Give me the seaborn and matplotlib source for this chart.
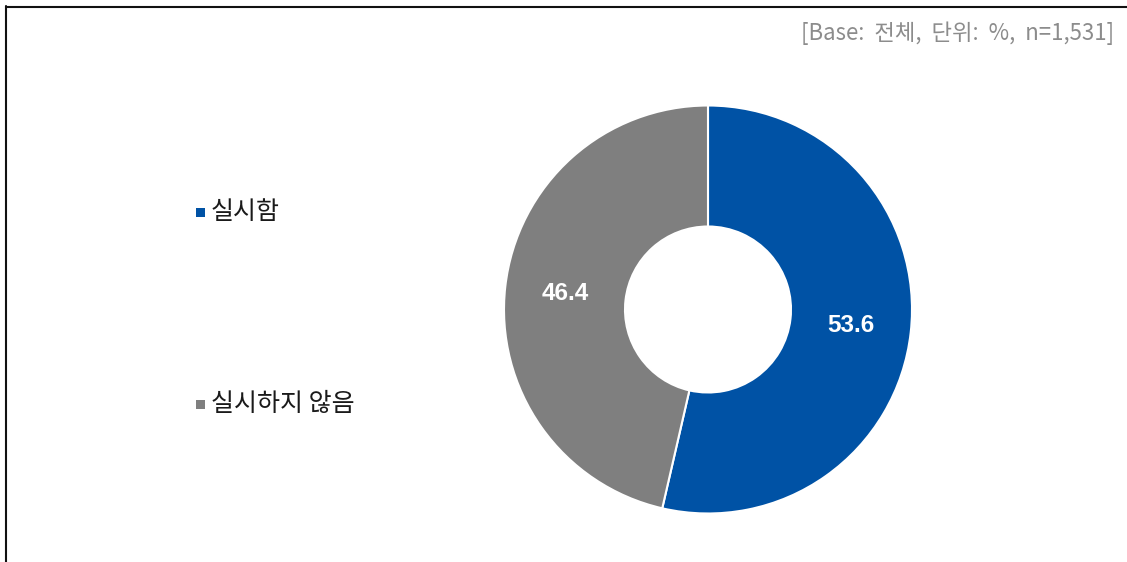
import matplotlib
matplotlib.use("Agg")
import matplotlib.pyplot as plt
import seaborn as sns
import numpy as np
from matplotlib.lines import Line2D
from matplotlib.patches import Rectangle

categories = ["실시함", "실시하지 않음"]
values = [53.6, 46.4]
colors = ["#0052A5", "#7F7F7F"]
note = "[Base:  전체,  단위:  %,  n=1,531]"

sns.set_theme(style="white")
plt.rcParams['font.family'] = ['Noto Sans CJK KR', 'DejaVu Sans']

W, H = 1127, 562
fig = plt.figure(figsize=(W / 100, H / 100), dpi=100)
fig.patch.set_facecolor("white")

cx, cy, R = 708, 309.5, 204
ax = fig.add_axes([(cx - R) / W, (H - cy - R) / H, 2 * R / W, 2 * R / H])
inner = 83 / R
wedges, _ = ax.pie(values, colors=colors, startangle=90, counterclock=False,
                   radius=1.0, wedgeprops=dict(width=1 - inner, edgecolor="white", linewidth=1.5))
ax.set_xlim(-1, 1)
ax.set_ylim(-1, 1)
ax.set_aspect("equal")
ax.axis("off")

mid_r = (1 + inner) / 2
for w, v in zip(wedges, values):
    ang = np.deg2rad((w.theta1 + w.theta2) / 2)
    ax.text(mid_r * np.cos(ang), mid_r * np.sin(ang), f"{v:.1f}", ha="center", va="center",
            color="white", fontsize=17.5, fontweight="bold", family=["Liberation Sans", "DejaVu Sans"])

# legend
leg_y = [212, 404]
for cat, col, y in zip(categories, colors, leg_y):
    fig.patches.append(Rectangle((196 / W, (H - y - 4.5) / H), 8.5 / W, 8.5 / H,
                                 transform=fig.transFigure, facecolor=col, edgecolor="none"))
    fig.text(211 / W, (H - y) / H, cat, ha="left", va="center", fontsize=18, color="#1a1a1a")

# note
fig.text(1114 / W, (H - 33) / H, note, ha="right", va="center", fontsize=16, color="#8C8C8C")

# frame
fig.add_artist(Line2D([5.5 / W, 5.5 / W], [0, (H - 6) / H], transform=fig.transFigure,
                      color="#111111", linewidth=1.5))
fig.add_artist(Line2D([5.5 / W, 1], [(H - 6.5) / H, (H - 6.5) / H], transform=fig.transFigure,
                      color="#111111", linewidth=1.5))

fig.savefig("out.png", dpi=100, facecolor="white")
